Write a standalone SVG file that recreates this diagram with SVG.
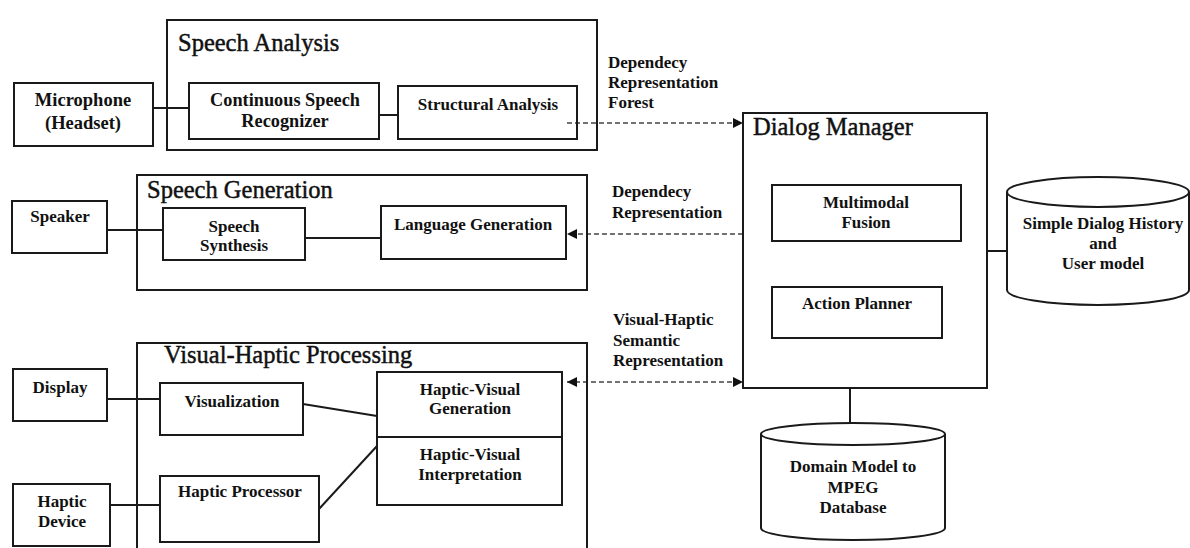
<svg xmlns="http://www.w3.org/2000/svg" width="1190" height="548" viewBox="0 0 1190 548">
  <style>
    .box { fill: none; stroke: #1a1a1a; stroke-width: 2; }
    .frame { fill: none; stroke: #1a1a1a; stroke-width: 2; }
    .title { font-family: "Liberation Serif", "Times New Roman", serif; font-size: 24.5px; fill: #111; stroke: #111; stroke-width: 0.45; }
    .lbl { font-family: "Liberation Serif", "Times New Roman", serif; font-size: 17px; font-weight: bold; fill: #111; text-anchor: middle; }
    .note { font-family: "Liberation Serif", "Times New Roman", serif; font-size: 17px; font-weight: bold; fill: #111; }
    .wire { fill: none; stroke: #1a1a1a; stroke-width: 2; }
    .dash { fill: none; stroke: #444; stroke-width: 1.4; stroke-dasharray: 5 3; }
    .cyl { fill: #fff; stroke: #1a1a1a; stroke-width: 2; }
  </style>
  <defs>
    <marker id="head" viewBox="0 0 10 10" refX="10" refY="5" markerWidth="10" markerHeight="10" markerUnits="userSpaceOnUse" orient="auto-start-reverse">
      <path d="M0,0 L10,5 L0,10 Z" fill="#111"/>
    </marker>
  </defs>
  <rect width="1190" height="548" fill="#fff"/>

  <!-- connectors -->
  <g id="connectors">
    <line class="wire" x1="153" y1="108" x2="189" y2="108"/>
    <line class="wire" x1="379" y1="115" x2="398" y2="115"/>
    <line class="wire" x1="107" y1="230" x2="163" y2="230"/>
    <line class="wire" x1="305" y1="238" x2="381" y2="238"/>
    <line class="wire" x1="107" y1="399" x2="160" y2="399"/>
    <line class="wire" x1="110" y1="505" x2="160" y2="505"/>
    <line class="wire" x1="303" y1="404" x2="377" y2="416"/>
    <line class="wire" x1="319" y1="509" x2="377" y2="446"/>
    <line class="wire" x1="987" y1="251" x2="1007" y2="251"/>
    <line class="wire" x1="850" y1="388" x2="850" y2="424"/>
    <line class="dash" x1="567" y1="123" x2="743" y2="123" marker-end="url(#head)"/>
    <line class="dash" x1="743" y1="234" x2="567" y2="234" marker-end="url(#head)"/>
    <line class="dash" x1="567" y1="382" x2="743" y2="382" marker-start="url(#head)" marker-end="url(#head)"/>
    <text class="note" x="608" y="68">Dependecy</text>
    <text class="note" x="608" y="88">Representation</text>
    <text class="note" x="608" y="108">Forest</text>
    <text class="note" x="612" y="197">Dependecy</text>
    <text class="note" x="612" y="218">Representation</text>
    <text class="note" x="613" y="325">Visual-Haptic</text>
    <text class="note" x="613" y="346">Semantic</text>
    <text class="note" x="613" y="366">Representation</text>
  </g>

  <!-- speech analysis -->
  <g id="speech-analysis">
    <rect class="frame" x="167" y="20" width="430" height="130"/>
    <text class="title" x="178" y="51">Speech Analysis</text>
  </g>
  <g id="microphone">
    <rect class="box" x="14" y="83" width="139" height="63"/>
    <text class="lbl" x="83" y="106" style="font-size:18.5px">Microphone</text>
    <text class="lbl" x="83" y="129" style="font-size:18.5px">(Headset)</text>
  </g>
  <g id="speech-recognizer">
    <rect class="box" x="189" y="83" width="190" height="56"/>
    <text class="lbl" x="285" y="106" style="font-size:18.3px">Continuous Speech</text>
    <text class="lbl" x="285" y="127" style="font-size:18.3px">Recognizer</text>
  </g>
  <g id="structural-analysis">
    <rect class="box" x="398" y="86" width="179" height="53"/>
    <text class="lbl" x="488" y="110">Structural Analysis</text>
  </g>

  <!-- speech generation -->
  <g id="speech-generation">
    <rect class="frame" x="137" y="175" width="450" height="115"/>
    <text class="title" x="147" y="198">Speech Generation</text>
  </g>
  <g id="speaker">
    <rect class="box" x="12" y="201" width="95" height="52"/>
    <text class="lbl" x="60" y="222">Speaker</text>
  </g>
  <g id="speech-synthesis">
    <rect class="box" x="163" y="208" width="142" height="52"/>
    <text class="lbl" x="234" y="232">Speech</text>
    <text class="lbl" x="234" y="251">Synthesis</text>
  </g>
  <g id="language-generation">
    <rect class="box" x="381" y="206" width="185" height="53"/>
    <text class="lbl" x="473" y="230">Language Generation</text>
  </g>

  <!-- visual-haptic processing -->
  <g id="visual-haptic-processing">
    <polyline class="frame" points="137,550 137,343 587,343 587,550"/>
    <text class="title" x="164" y="363">Visual-Haptic Processing</text>
  </g>
  <g id="display">
    <rect class="box" x="13" y="369" width="94" height="52"/>
    <text class="lbl" x="60" y="393">Display</text>
  </g>
  <g id="visualization">
    <rect class="box" x="160" y="383" width="143" height="52"/>
    <text class="lbl" x="232" y="407">Visualization</text>
  </g>
  <g id="haptic-device">
    <rect class="box" x="13" y="484" width="97" height="62"/>
    <text class="lbl" x="62" y="507">Haptic</text>
    <text class="lbl" x="62" y="527">Device</text>
  </g>
  <g id="haptic-processor">
    <rect class="box" x="160" y="476" width="159" height="66"/>
    <text class="lbl" x="240" y="497">Haptic Processor</text>
  </g>
  <g id="haptic-visual">
    <rect class="box" x="377" y="372" width="185" height="133"/>
    <line class="box" x1="377" y1="437" x2="562" y2="437"/>
    <text class="lbl" x="470" y="395">Haptic-Visual</text>
    <text class="lbl" x="470" y="414">Generation</text>
    <text class="lbl" x="470" y="460">Haptic-Visual</text>
    <text class="lbl" x="470" y="480">Interpretation</text>
  </g>

  <!-- dialog manager -->
  <g id="dialog-manager">
    <rect class="frame" x="743" y="113" width="244" height="275"/>
    <text class="title" x="753" y="135">Dialog Manager</text>
  </g>
  <g id="multimodal-fusion">
    <rect class="box" x="772" y="185" width="189" height="56"/>
    <text class="lbl" x="866" y="208">Multimodal</text>
    <text class="lbl" x="866" y="228">Fusion</text>
  </g>
  <g id="action-planner">
    <rect class="box" x="772" y="287" width="170" height="51"/>
    <text class="lbl" x="857" y="309">Action Planner</text>
  </g>

  <!-- data stores -->
  <g id="dialog-history">
    <path class="cyl" d="M1007,192 L1007,290 A91,15 0 0 0 1189,290 L1189,192"/>
    <ellipse class="cyl" cx="1098" cy="192" rx="91" ry="15"/>
    <text class="lbl" x="1103" y="229">Simple Dialog History</text>
    <text class="lbl" x="1103" y="249">and</text>
    <text class="lbl" x="1103" y="269">User model</text>
  </g>
  <g id="domain-model">
    <path class="cyl" d="M761,434 L761,528 A92,12 0 0 0 945,528 L945,434"/>
    <ellipse class="cyl" cx="853" cy="434" rx="92" ry="11"/>
    <text class="lbl" x="853" y="472">Domain Model to</text>
    <text class="lbl" x="853" y="493">MPEG</text>
    <text class="lbl" x="853" y="513">Database</text>
  </g>
</svg>
